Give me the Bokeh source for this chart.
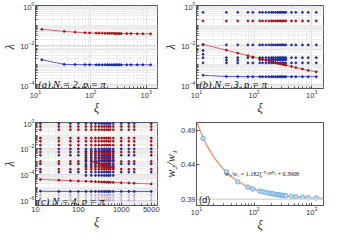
from bokeh.plotting import figure
from bokeh.layouts import gridplot
from bokeh.models import FixedTicker, LogTickFormatter, PrintfTickFormatter, Label, Span
from bokeh.embed import file_html
from bokeh.resources import INLINE

# ---------------- data ----------------
xi = [13, 33, 52, 78, 95, 125, 140, 160, 180, 200, 215, 235, 255, 270,
      290, 310, 330, 355, 445, 530, 690, 870, 1200]

# (a) N = 2
a_red = [0.062, 0.049, 0.045, 0.042, 0.041, 0.040, 0.040, 0.040, 0.039, 0.039,
         0.039, 0.039, 0.039, 0.038, 0.038, 0.038, 0.038, 0.038, 0.038, 0.038,
         0.037, 0.037, 0.037]
a_blue = [1.8e-3, 1.05e-3, 1.03e-3, 1.02e-3, 1.01e-3, 1.0e-3, 1.0e-3, 1.0e-3,
          1.0e-3, 1.0e-3, 1.0e-3, 1.0e-3, 1.0e-3, 1.0e-3, 1.0e-3, 1.0e-3,
          1.0e-3, 1.0e-3, 1.0e-3, 1.0e-3, 1.0e-3, 1.0e-3, 1.0e-3]

# (b) N = 3
b_red = [0.0108, 0.0055, 0.0039, 0.0029, 0.0025, 0.0021, 0.0019, 0.0017,
         0.00157, 0.00145, 0.00138, 0.0013, 0.00122, 0.00117, 0.00111,
         0.00106, 0.00101, 0.00096, 0.00082, 0.00072, 0.00061, 0.00052, 0.00044]
b_blue = [2.95e-4, 2.55e-4, 2.52e-4, 2.5e-4, 2.5e-4, 2.5e-4, 2.5e-4, 2.5e-4,
          2.5e-4, 2.5e-4, 2.5e-4, 2.5e-4, 2.5e-4, 2.5e-4, 2.5e-4, 2.5e-4,
          2.5e-4, 2.5e-4, 2.5e-4, 2.5e-4, 2.5e-4, 2.5e-4, 2.5e-4]
b_rows_blue = [0.45, 0.0102, 0.0023, 0.00125]
b_rows_red = [0.165]
b_extra_x = [13, 13, 33, 52, 125, 140, 160, 180, 200, 215, 235, 255, 270, 290, 310, 330, 355]
b_extra_y = [0.0053, 0.0034, 0.0017, 0.0017, 0.0018, 0.0018, 0.0018, 0.0018, 0.0018,
             0.0018, 0.0018, 0.0018, 0.0018, 0.0018, 0.0018, 0.0018, 0.0018]

# (c) N = 4
xi_c = [13, 35, 65, 100, 150, 200, 250, 300, 350, 400, 450, 500, 550, 650,
        1000, 1500, 2000, 5000]
c_red = [4.07e-5, 3.56e-5, 3.28e-5, 3.09e-5, 2.93e-5, 2.82e-5, 2.73e-5, 2.67e-5,
         2.61e-5, 2.57e-5, 2.52e-5, 2.49e-5, 2.46e-5, 2.40e-5, 2.27e-5, 2.15e-5,
         2.06e-5, 1.82e-5]
c_blue = [5.0e-6, 4.8e-6, 4.8e-6, 4.8e-6, 4.8e-6, 4.8e-6, 4.8e-6, 4.8e-6, 4.8e-6,
          4.8e-6, 4.8e-6, 4.8e-6, 4.8e-6, 4.8e-6, 4.8e-6, 4.8e-6, 4.8e-6, 4.8e-6]
c_rows_blue = [0.85, 0.0092, 0.003, 0.00065, 0.00015]
c_rows_red = [0.49, 0.28, 0.063, 0.036, 0.018, 0.0053, 0.001, 0.00025]
c_dense_cols = [150, 200, 250, 300, 350, 400, 450, 500, 550, 650]
c_dense_blue = [0.0062, 0.0021, 0.0012, 0.00045, 8.3e-5]
c_dense_red = [0.0040, 0.0016, 0.00037]
c_pale_blue = [2.6e-6, 1.0e-6]
c_pale_red = [1.6e-6]
c_slant_x = [200, 250, 300, 350, 400, 450, 500, 550, 650]
c_slant_y = [1.0e-3, 8.5e-4, 7.2e-4, 6.2e-4, 5.3e-4, 4.6e-4, 4.0e-4, 3.5e-4, 3.0e-4]

# (d) ratio w2/w1
d_ratio = [0.478, 0.430, 0.4155, 0.4080, 0.4055, 0.4025, 0.4015, 0.4005, 0.3995,
           0.3988, 0.3983, 0.3978, 0.3973, 0.3970, 0.3966, 0.3963, 0.3960, 0.3957,
           0.3948, 0.3942, 0.3936, 0.3930, 0.3926]
fit_x = [10, 11, 12, 13, 15, 18, 22, 27, 33, 40, 50, 65, 80, 100, 130, 170, 220,
         300, 400, 600, 900, 1300, 1600]
fit_y = [0.5029, 0.4938, 0.4861, 0.4795, 0.4689, 0.4573, 0.4464, 0.4371, 0.4295,
         0.4234, 0.4176, 0.4120, 0.4084, 0.4052, 0.4022, 0.3998, 0.3980, 0.3962,
         0.3950, 0.3937, 0.3928, 0.3923, 0.3920]
asymptote = 0.3908

x_ticks = [10, 100, 1000]
x_ticks_c = [10, 100, 1000, 5000]
y_ticks_ab = [1e-4, 1e-2, 1]
y_ticks_c = [1e-6, 1e-4, 1e-2, 1]
y_ticks_d = [0.39, 0.44, 0.49]

# ---------------- styling helpers ----------------
RED_DOT = "#a3161f"
RED_LINE = "#d9606e"
BLUE_DOT = "#1d2a9c"
BLUE_LINE = "#5a5fc8"
AX = "#555555"
DOT = 1.9

minor_x = [m * 10 ** k for k in range(1, 4) for m in range(2, 10)]
minor_y = [m * 10 ** k for k in range(-7, 1) for m in range(1, 10) if not (m == 1 and k % 2 == 0)]


def make(w, h, xr, yr, bl, br, ylog=True, grid=True):
    p = figure(width=w, height=h, x_axis_type="log",
               y_axis_type="log" if ylog else "linear",
               x_range=xr, y_range=yr, output_backend="svg",
               toolbar_location=None, min_border_left=bl, min_border_right=br,
               min_border_top=5, min_border_bottom=24)
    p.outline_line_color = AX
    p.background_fill_color = "white"
    p.border_fill_color = "white"
    for ax in (p.xaxis[0], p.yaxis[0]):
        ax.axis_line_color = AX
        ax.major_tick_line_color = AX
        ax.minor_tick_line_color = AX
        ax.major_tick_in = 3
        ax.major_tick_out = 0
        ax.minor_tick_in = 2
        ax.minor_tick_out = 0
        ax.major_label_text_font = "Liberation Sans"
        ax.major_label_text_font_size = "7.5px"
        ax.major_label_text_color = "#333333"
        ax.major_label_standoff = 1
        ax.axis_label_text_font = "Liberation Serif"
        ax.axis_label_text_font_style = "italic"
        ax.axis_label_text_font_size = "12px"
        ax.axis_label_text_color = "#222222"
        ax.axis_label_standoff = 0
    if grid:
        for g in (p.xgrid[0], p.ygrid[0]):
            g.grid_line_color = "#dcdcdc"
            g.minor_grid_line_color = "#ececec"
    else:
        p.xgrid.visible = False
        p.ygrid.visible = False
    p.xaxis.axis_label = "ξ"
    return p


def panel_label(p, x, y, text, italic=True, font="Liberation Serif", size="10.5px"):
    p.add_layout(Label(x=x, y=y, text=text, text_font=font,
                       text_font_style="italic" if italic else "normal",
                       text_font_size=size, text_baseline="middle",
                       text_align="left", text_color="#111111"))


def cross(xs, ys):
    return [x for y in ys for x in xs], [y for y in ys for x in xs]


# ---------------- (a) ----------------
pa = make(160, 117, (10, 1600), (10 ** -4.2, 1), 27, 3)
pa.xaxis.ticker = FixedTicker(ticks=x_ticks, minor_ticks=minor_x)
pa.xaxis.formatter = LogTickFormatter()
pa.yaxis.ticker = FixedTicker(ticks=y_ticks_ab, minor_ticks=minor_y)
pa.yaxis.formatter = LogTickFormatter()
pa.yaxis.axis_label = "λ"
pa.line(xi, a_red, line_color=RED_LINE, line_width=1)
pa.scatter(xi, a_red, size=DOT, color=RED_DOT)
pa.line(xi, a_blue, line_color=BLUE_LINE, line_width=1)
pa.scatter(xi, a_blue, size=DOT, color=BLUE_DOT)
panel_label(pa, 11.2, 1.0e-4, "(a) N = 2, p = π")

# ---------------- (b) ----------------
pb = make(166, 117, (10, 1600), (10 ** -4.2, 1), 33, 3)
pb.xaxis.ticker = FixedTicker(ticks=x_ticks, minor_ticks=minor_x)
pb.xaxis.formatter = LogTickFormatter()
pb.yaxis.ticker = FixedTicker(ticks=y_ticks_ab, minor_ticks=minor_y)
pb.yaxis.formatter = LogTickFormatter()
pb.yaxis.axis_label = "λ"
bx, by = cross(xi, b_rows_blue)
pb.scatter(bx, by, size=DOT, color=BLUE_DOT)
pb.scatter(b_extra_x, b_extra_y, size=DOT, color=BLUE_DOT)
rx, ry = cross(xi, b_rows_red)
pb.scatter(rx, ry, size=DOT, color=RED_DOT)
pb.line(xi, b_red, line_color=RED_LINE, line_width=1)
pb.scatter(xi, b_red, size=DOT, color=RED_DOT)
pb.line(xi, b_blue, line_color=BLUE_LINE, line_width=1)
pb.scatter(xi, b_blue, size=DOT, color=BLUE_DOT)
panel_label(pb, 11.2, 1.0e-4, "(b) N = 3, p = π")

# ---------------- (c) ----------------
pc = make(160, 117, (10, 7000), (10 ** -6.4, 1), 27, 3)
pc.xaxis.ticker = FixedTicker(ticks=x_ticks_c, minor_ticks=minor_x)
pc.xaxis.formatter = PrintfTickFormatter(format="%d")
pc.yaxis.ticker = FixedTicker(ticks=y_ticks_c, minor_ticks=minor_y)
pc.yaxis.formatter = LogTickFormatter()
pc.yaxis.axis_label = "λ"
px_, py_ = cross(xi_c, c_pale_blue)
pc.scatter(px_, py_, size=DOT, color="#8f98e0", alpha=0.45)
px_, py_ = cross(xi_c, c_pale_red)
pc.scatter(px_, py_, size=DOT, color="#e39aa6", alpha=0.45)
cbx, cby = cross(xi_c, c_rows_blue)
pc.scatter(cbx, cby, size=DOT, color=BLUE_DOT)
crx, cry = cross(xi_c, c_rows_red)
pc.scatter(crx, cry, size=DOT, color=RED_DOT)
dbx, dby = cross(c_dense_cols, c_dense_blue)
pc.scatter(dbx, dby, size=DOT, color=BLUE_DOT)
drx, dry = cross(c_dense_cols, c_dense_red)
pc.scatter(drx, dry, size=DOT, color=RED_DOT)
pc.line(c_slant_x, c_slant_y, line_color=RED_DOT, line_width=1.2)
pc.scatter(c_slant_x, c_slant_y, size=DOT, color=RED_DOT)
pc.line(xi_c, c_red, line_color=RED_LINE, line_width=1)
pc.scatter(xi_c, c_red, size=DOT, color=RED_DOT)
pc.line(xi_c, c_blue, line_color=BLUE_LINE, line_width=1)
pc.scatter(xi_c, c_blue, size=DOT, color=BLUE_DOT)
panel_label(pc, 11.2, 8.7e-7, "(c) N = 4, p = π")

# ---------------- (d) ----------------
pd = make(166, 117, (10, 1600), (0.3817, 0.501), 33, 3, ylog=False, grid=False)
pd.xaxis.ticker = FixedTicker(ticks=x_ticks, minor_ticks=minor_x)
pd.xaxis.formatter = LogTickFormatter()
pd.yaxis.ticker = FixedTicker(ticks=y_ticks_d)
pd.yaxis.minor_tick_in = 0
pd.yaxis.axis_label = "w₂/w₁"
pd.yaxis.axis_label_text_font_size = "12px"
pd.add_layout(Span(location=asymptote, dimension="width",
                   line_color="#dadada", line_width=1.5))
pd.line(fit_x, fit_y, line_color="#f0875a", line_width=1.2)
pd.scatter(xi, d_ratio, size=4.5, marker="circle", fill_color="#b8d8f0",
           line_color="#62a4d8", line_width=0.8)
pd.add_layout(Label(x=31, y=0.4275, text="w₂/w₁ = 1.182ξ⁻⁰·⁸⁹⁰⁵ + 0.3908",
                    text_font="Liberation Serif", text_font_size="6px",
                    text_baseline="middle", text_align="left",
                    text_color="#111111"))
panel_label(pd, 11.0, 0.3905, "(d)", italic=False, font="Liberation Sans", size="9.5px")

grid = gridplot([[pa, pb], [pc, pd]], toolbar_location=None)

open("out.html", "w").write(file_html(grid, INLINE))
